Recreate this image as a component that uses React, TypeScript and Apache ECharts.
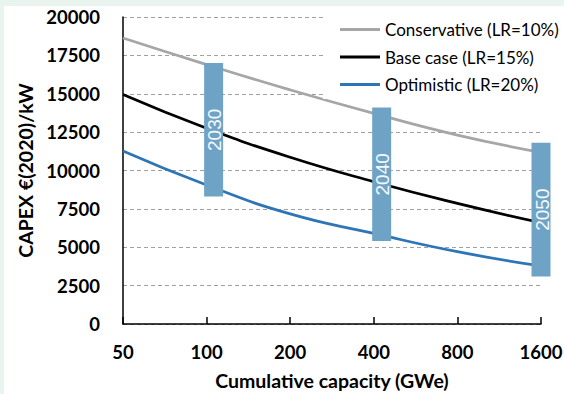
import React, { useEffect, useRef } from "react";
import * as echarts from "echarts";

// Cumulative installed capacity (GWe) at each doubling
const capacities = [50, 100, 200, 400, 800, 1600];

// CAPEX in €(2020)/kW for the three learning-rate scenarios
const conservative = [18630, 16900, 15250, 13720, 12310, 11180];
const baseCase = [14950, 12750, 10860, 9270, 7860, 6600];
const optimistic = [11270, 9050, 7170, 5900, 4710, 3780];

const seriesNames = [
  "Conservative (LR=10%)",
  "Base case (LR=15%)",
  "Optimistic (LR=20%)",
];
const seriesColors = ["#a6a6a6", "#000000", "#2e75b6"];

// Milestone years: capacity reached and CAPEX range spanned
const yearLabels = ["2030", "2040", "2050"];
const yearCapacity = [106, 427, 1600];
const yearLow = [8300, 5400, 3100];
const yearHigh = [17000, 14100, 11800];

// Y axis range
const yMin = 0;
const yMax = 20000;
const yStep = 2500;

// The x axis is drawn in doublings from the first capacity value
const toAxis = (c: number) => Math.log2(c / capacities[0]);

const FONT = "Lato, 'Liberation Sans', Arial, sans-serif";

export default function App() {
  const ref = useRef<HTMLDivElement>(null);

  useEffect(() => {
    if (!ref.current) return;
    const chart = echarts.init(ref.current, undefined, { renderer: "svg" });

    const lineSeries = [conservative, baseCase, optimistic].map((vals, i) => ({
      name: seriesNames[i],
      type: "line",
      data: capacities.map((c, j) => [toAxis(c), vals[j]]),
      smooth: true,
      symbol: "none",
      lineStyle: { color: seriesColors[i], width: 2.75 },
      itemStyle: { color: seriesColors[i] },
      z: 2,
    }));

    const option: any = {
      animation: false,
      backgroundColor: "transparent",
      grid: {
        left: 123,
        right: 23,
        top: 17,
        bottom: 70,
        containLabel: false,
        outerBoundsMode: "none",
      },
      legend: {
        data: seriesNames,
        orient: "vertical",
        left: 323,
        top: 14,
        padding: [7, 6, 6, 17],
        icon: "rect",
        itemWidth: 40,
        itemHeight: 3,
        itemGap: 10.5,
        backgroundColor: "#ffffff",
        textStyle: {
          fontFamily: FONT,
          fontSize: 17,
          color: "#000",
          lineHeight: 16,
        },
      },
      xAxis: {
        type: "value",
        min: 0,
        max: toAxis(capacities[capacities.length - 1]),
        interval: 1,
        name: "Cumulative capacity (GWe)",
        nameLocation: "middle",
        nameGap: 46,
        nameTextStyle: {
          fontFamily: FONT,
          fontSize: 19.5,
          fontWeight: "bold",
          color: "#000",
        },
        axisLine: { show: true, lineStyle: { color: "#000", width: 1.5 } },
        axisTick: {
          show: true,
          inside: true,
          length: 7,
          lineStyle: { color: "#000", width: 1.5 },
        },
        axisLabel: {
          margin: 18,
          fontFamily: FONT,
          fontSize: 18.5,
          fontWeight: "bold",
          color: "#000",
          formatter: (v: number) =>
            String(Math.round(capacities[0] * Math.pow(2, v))),
        },
        splitLine: { show: false },
      },
      yAxis: {
        type: "value",
        min: yMin,
        max: yMax,
        interval: yStep,
        name: "CAPEX €(2020)/kW",
        nameLocation: "middle",
        nameGap: 72,
        nameRotate: 90,
        nameTextStyle: {
          fontFamily: FONT,
          fontSize: 19.5,
          fontWeight: "bold",
          color: "#000",
        },
        axisLine: { show: true, lineStyle: { color: "#000", width: 1.5 } },
        axisTick: { show: false },
        axisLabel: {
          margin: 23,
          fontFamily: FONT,
          fontSize: 18.5,
          fontWeight: "bold",
          color: "#000",
          formatter: (v: number) => String(v),
        },
        splitLine: {
          show: true,
          lineStyle: { color: "#a0a0a0", width: 1, type: [4, 3] },
        },
      },
      series: [
        ...lineSeries,
        {
          name: "Milestones",
          type: "custom",
          z: 5,
          encode: { x: 0, y: [1, 2] },
          data: yearLabels.map((_, i) => [
            toAxis(yearCapacity[i]),
            yearLow[i],
            yearHigh[i],
          ]),
          renderItem: (params: any, api: any) => {
            const x = api.value(0);
            const top = api.coord([x, api.value(2)]);
            const bot = api.coord([x, api.value(1)]);
            const w = 19;
            return {
              type: "group",
              children: [
                {
                  type: "rect",
                  shape: {
                    x: top[0] - w / 2,
                    y: top[1],
                    width: w,
                    height: bot[1] - top[1],
                  },
                  style: { fill: "#6fa3c5" },
                },
                {
                  type: "text",
                  x: top[0] + 1,
                  y: (top[1] + bot[1]) / 2,
                  rotation: Math.PI / 2,
                  style: {
                    text: yearLabels[params.dataIndex],
                    fill: "#f4f8fb",
                    fontFamily: "'Liberation Sans', Arial, sans-serif",
                    fontSize: 19,
                    align: "center",
                    verticalAlign: "middle",
                  },
                },
              ],
            };
          },
        },
      ],
    };

    chart.setOption(option);
    return () => chart.dispose();
  }, []);

  return (
    <div
      style={{
        position: "fixed",
        left: 0,
        top: 0,
        width: 564,
        height: 394,
        background: "#e9f4ee",
        overflow: "hidden",
      }}
    >
      <div
        style={{
          position: "absolute",
          left: 4,
          top: 6,
          right: 0,
          bottom: 0,
          background: "#ffffff",
        }}
      />
      <div
        ref={ref}
        style={{ position: "absolute", left: 0, top: 0, width: 564, height: 394 }}
      />
    </div>
  );
}
